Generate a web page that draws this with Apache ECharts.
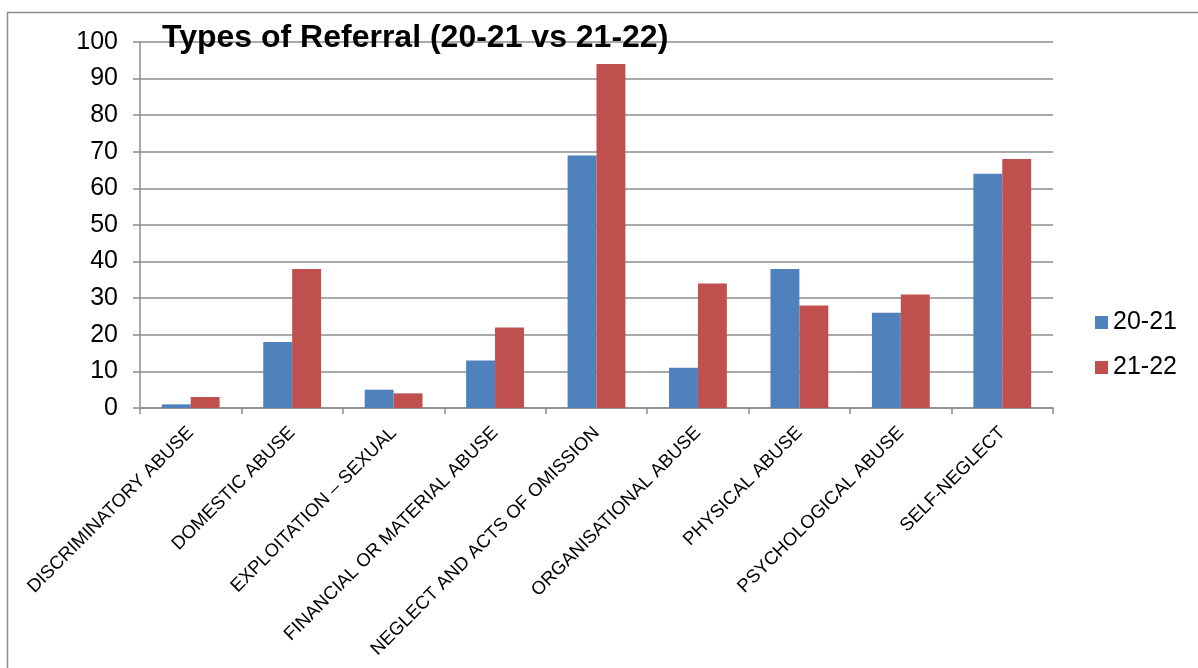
<!DOCTYPE html>
<html>
<head>
<meta charset="utf-8">
<style>
  html, body { margin: 0; padding: 0; background: #ffffff; }
  #chart { width: 1198px; height: 668px; }
</style>
<script src="https://cdn.jsdelivr.net/npm/echarts@6/dist/echarts.min.js"></script>
</head>
<body>
<div id="chart"></div>
<script>
// Referral categories
const categories = [
  'DISCRIMINATORY ABUSE',
  'DOMESTIC ABUSE',
  'EXPLOITATION \u2013 SEXUAL',
  'FINANCIAL OR MATERIAL ABUSE',
  'NEGLECT AND ACTS OF OMISSION',
  'ORGANISATIONAL ABUSE',
  'PHYSICAL ABUSE',
  'PSYCHOLOGICAL ABUSE',
  'SELF-NEGLECT'
];

// Referral counts per year
const year2021 = [1, 18, 5, 13, 69, 11, 38, 26, 64];
const year2122 = [3, 38, 4, 22, 94, 34, 28, 31, 68];

const seriesNames = ['20-21', '21-22'];

const FONT = '"Liberation Sans", Arial, sans-serif';
const GRID_GRAY = '#8c8c8c';

const chart = echarts.init(document.getElementById('chart'), null, { renderer: 'canvas' });

chart.setOption({
  animation: false,
  backgroundColor: '#ffffff',
  textStyle: { fontFamily: FONT },
  graphic: [
    {
      type: 'rect',
      shape: { x: 7.5, y: 12.5, width: 1220, height: 700 },
      style: { fill: 'none', stroke: '#8c8c8c', lineWidth: 1.5 },
      silent: true,
      z: -10
    }
  ],
  title: {
    text: 'Types of Referral (20-21 vs 21-22)',
    left: 162,
    top: 22,
    padding: 0,
    textStyle: {
      fontFamily: FONT,
      fontSize: 32,
      fontWeight: 'bold',
      color: '#000000'
    },
    z: 10
  },
  legend: {
    orient: 'vertical',
    left: 1095,
    top: 310,
    padding: 0,
    itemWidth: 13,
    itemHeight: 13,
    itemGap: 20,
    icon: 'rect',
    textStyle: { fontFamily: FONT, fontSize: 25, color: '#000000', padding: [0, 0, 0, 0] },
    data: seriesNames
  },
  grid: {
    left: 140,
    right: 145,
    top: 42,
    bottom: 260,
    containLabel: false
  },
  xAxis: {
    type: 'category',
    data: categories,
    axisLine: { show: true, lineStyle: { color: GRID_GRAY, width: 1.5 } },
    axisTick: { show: true, alignWithLabel: false, length: 6, lineStyle: { color: GRID_GRAY, width: 1.5 } },
    axisLabel: {
      interval: 0,
      rotate: 45,
      margin: 22,
      fontFamily: FONT,
      fontSize: 18.5,
      color: '#000000'
    },
    splitLine: { show: false }
  },
  yAxis: {
    type: 'value',
    min: 0,
    max: 100,
    interval: 10,
    axisLine: { show: true, lineStyle: { color: GRID_GRAY, width: 1.5 } },
    axisTick: { show: true, length: 7, lineStyle: { color: GRID_GRAY, width: 1.5 } },
    axisLabel: {
      margin: 22,
      fontFamily: FONT,
      fontSize: 25,
      color: '#000000'
    },
    splitLine: { show: true, lineStyle: { color: GRID_GRAY, width: 1.5 } }
  },
  series: [
    {
      name: seriesNames[0],
      type: 'bar',
      data: year2021,
      barGap: '0%',
      barCategoryGap: '43%',
      itemStyle: { color: '#4F81BD' }
    },
    {
      name: seriesNames[1],
      type: 'bar',
      data: year2122,
      barGap: '0%',
      barCategoryGap: '43%',
      itemStyle: { color: '#C0504D' }
    }
  ]
});
</script>
</body>
</html>
